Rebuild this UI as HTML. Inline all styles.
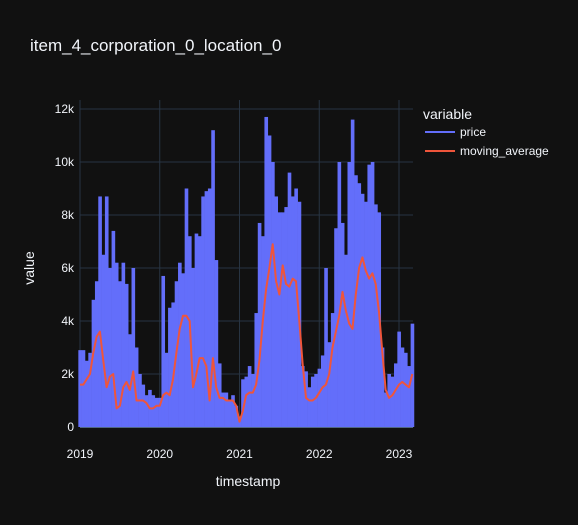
<!DOCTYPE html>
<html><head><meta charset="utf-8"><style>
html,body{margin:0;padding:0;background:#111111;}
svg{display:block;font-family:"Liberation Sans",sans-serif;}
</style></head><body>
<svg id="chart" width="578" height="525" viewBox="0 0 578 525">
<rect width="578" height="525" fill="#111111"/>
<text x="30" y="51" fill="#f2f5fa" font-size="17">item_4_corporation_0_location_0</text>
<g id="grid"></g>
<g id="price"></g>
<g id="ma"></g>
<g id="axes"></g>
<text x="248" y="486" text-anchor="middle" fill="#f2f5fa" font-size="14">timestamp</text>
<text transform="translate(34,268) rotate(-90)" text-anchor="middle" fill="#f2f5fa" font-size="14">value</text>
<g>
<text x="423" y="119" fill="#f2f5fa" font-size="14">variable</text>
<g>
<line x1="425" y1="132" x2="455" y2="132" stroke="#636efa" stroke-width="2"/>
<text x="460" y="136" fill="#f2f5fa" font-size="12">price</text></g>
<g>
<line x1="425" y1="151" x2="455" y2="151" stroke="#EF553B" stroke-width="2"/>
<text x="460" y="155" fill="#f2f5fa" font-size="12">moving_average</text></g>
</g>
</svg>
<script>
const startYear = 2019;
const stepsPerYear = 24;
const xTicks = [2019, 2020, 2021, 2022, 2023];
const yTicks = [0, 2000, 4000, 6000, 8000, 10000, 12000];
const yTickLabels = ["0", "2k", "4k", "6k", "8k", "10k", "12k"];
const price = [2.9,2.9,2.5,2.8,4.8,5.5,8.7,6.5,8.7,6.0,7.4,6.2,5.5,6.2,5.4,3.5,6.0,3.0,2.0,1.6,1.2,1.4,1.2,1.1,
1.1,5.7,2.8,4.5,4.7,5.5,6.2,5.8,9.0,7.2,6.0,7.3,7.2,8.7,8.9,9.0,11.2,6.3,2.4,1.3,1.3,1.0,1.2,0.8,
0.4,1.8,1.9,2.3,2.0,4.3,7.7,7.2,11.7,11.0,10.0,8.7,8.1,8.1,8.3,9.6,8.7,9.0,8.5,2.3,2.1,1.5,1.9,2.0,
2.2,2.7,6.0,3.2,4.3,7.5,10.0,7.7,6.5,10.0,11.6,9.5,9.2,8.8,8.5,9.9,10.0,8.4,8.1,3.0,1.3,2.0,1.9,2.4,
3.6,3.0,2.8,2.3,3.9].map(v=>v*1000);
const movingAverage = [1.6,1.6,1.8,2.0,2.8,3.4,3.6,2.5,1.5,1.9,2.0,0.7,0.8,1.5,1.7,1.4,2.1,1.0,1.0,1.0,0.9,0.7,0.7,0.8,
0.8,1.2,1.3,1.2,1.8,2.8,3.7,4.2,4.2,4.0,1.5,2.0,2.6,2.6,2.3,1.0,2.6,1.5,1.1,1.1,1.0,1.0,1.0,0.8,
0.2,0.6,1.2,1.3,1.3,1.6,2.5,4.0,5.2,6.0,6.9,5.5,5.0,6.1,5.4,5.3,5.6,5.5,4.0,2.4,1.1,1.0,1.0,1.1,
1.3,1.5,1.6,2.0,3.0,3.6,4.2,5.1,4.4,3.9,3.7,5.0,6.0,6.4,5.9,5.6,5.8,5.4,4.3,2.8,1.4,1.1,1.2,1.4,
1.6,1.7,1.6,1.5,2.0].map(v=>v*1000);

const NS="http://www.w3.org/2000/svg";
const xScale = t => 80 + (t - 2019) * 79.75;
const yScale = v => 427 - v * (318 / 12000);
const tOf = i => startYear + i / stepsPerYear;
function mk(tag, attrs, parent){const e=document.createElementNS(NS,tag);for(const k in attrs)e.setAttribute(k,attrs[k]);parent.appendChild(e);return e;}
const grid=document.getElementById('grid'), axes=document.getElementById('axes');
yTicks.forEach((v,k)=>{
  if(v>0){const l=mk('line',{x1:80,x2:413,y1:yScale(v),y2:yScale(v),stroke:'#283442','stroke-width':1},grid);
  
  }
  const t=mk('text',{x:74,y:yScale(v)+4,'text-anchor':'end',fill:'#f2f5fa','font-size':12},axes);
  t.textContent=yTickLabels[k];
  
  
});
xTicks.forEach(yr=>{
  const l=mk('line',{x1:xScale(yr),x2:xScale(yr),y1:100,y2:427,stroke:'#283442','stroke-width':1},grid);
  
  
  const t=mk('text',{x:xScale(yr),y:458,'text-anchor':'middle',fill:'#f2f5fa','font-size':12},axes);
  t.textContent=String(yr);
  
  
});
const z=mk('line',{x1:80,x2:413,y1:yScale(0),y2:yScale(0),stroke:'#506784','stroke-width':2},grid);


const pg=document.getElementById('price');
const w=79.75/stepsPerYear;
price.forEach((v,i)=>{
  const x=xScale(tOf(i));
  const r=mk('rect',{x:x-w/2,y:yScale(v),width:w+0.3,height:yScale(0)-yScale(v),fill:'#636efa'},pg);
  
  
});
const d=movingAverage.map((v,i)=>(i?'L':'M')+xScale(tOf(i)).toFixed(1)+','+yScale(v).toFixed(1)).join('');
const p=mk('path',{d:d,fill:'none',stroke:'#EF553B','stroke-width':2,'stroke-linejoin':'round'},document.getElementById('ma'));


</script>
</body></html>
